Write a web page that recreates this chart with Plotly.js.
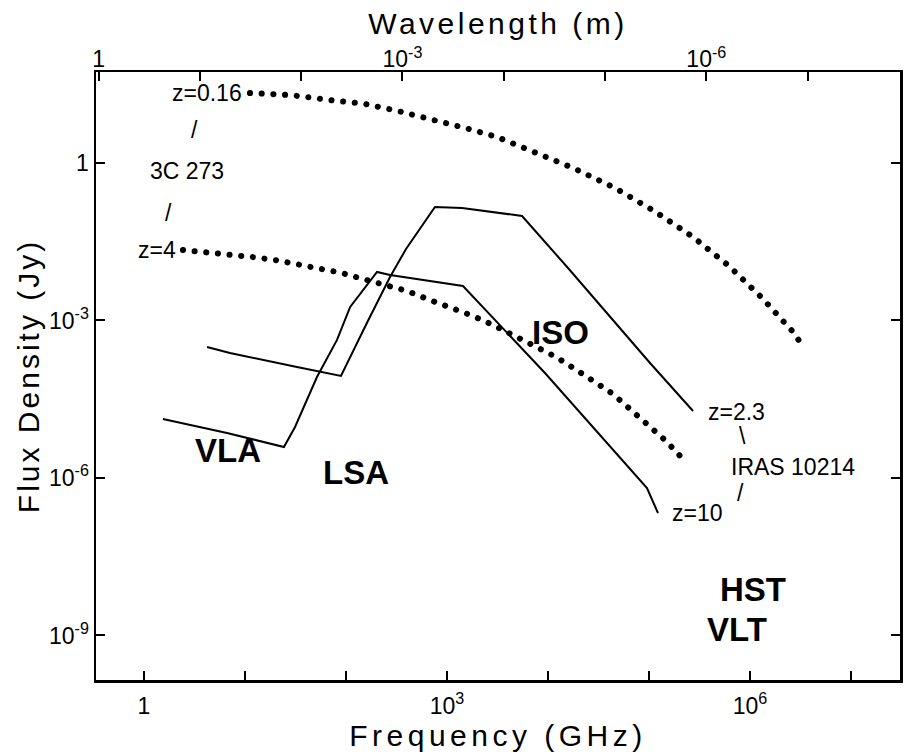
<!DOCTYPE html>
<html>
<head>
<meta charset="utf-8">
<script src="https://cdn.plot.ly/plotly-3.0.1.min.js"></script>
<style>
  html, body { margin: 0; padding: 0; background: #fff; }
  #chart { width: 912px; height: 755px; }
  .xtitle { letter-spacing: 4.5px; }
  .x2title { letter-spacing: 3.5px; }
  .ytitle { letter-spacing: 3px; }
  .scatterlayer .dotted .js-line { stroke-linecap: round !important; }
</style>
</head>
<body>
<div id="chart"></div>
<script>
// ---- Data (frequency in GHz, flux density in Jy) ----
// 3C 273 at z = 0.16 (dotted)
const freq3C273z016 = [11.2, 27.9, 69.5, 154, 327, 710, 1507, 3126, 6637, 17700, 46030, 112200, 272900, 619400, 1.315e6, 2.667e6, 3.126e6];
const flux3C273z016 = [21.5, 19.7, 15.8, 13.3, 9.77, 6.89, 4.65, 3.13, 1.77, 0.804, 0.334, 0.122, 0.0389, 0.0109, 0.00269, 6.04e-4, 3.89e-4];

// 3C 273 at z = 4 (dotted)
const freq3C273z4 = [2.43, 4.21, 7.10, 11.7, 19.8, 32.7, 54.1, 91.2, 147, 243, 402, 679, 1072, 1807, 2851, 4498, 7430, 12000, 18490, 28510, 44060, 66370, 100000, 147200, 207500];
const flux3C273z4 = [0.0220, 0.0202, 0.0185, 0.0162, 0.0142, 0.0119, 0.0100, 0.00804, 0.00617, 0.00474, 0.00365, 0.00245, 0.00181, 0.00122, 8.20e-4, 5.30e-4, 3.27e-4, 2.02e-4, 1.19e-4, 6.75e-5, 3.98e-5, 1.97e-5, 1.02e-5, 5.07e-6, 2.51e-6];

// IRAS 10214 at z = 2.3 (solid)
const freqIRASz23 = [4.21, 7.10, 32.7, 89.2, 161, 273, 393, 760, 1409, 3350, 5533, 15780, 102300, 272900];
const fluxIRASz23 = [3.13e-4, 2.40e-4, 1.30e-4, 8.77e-5, 8.96e-4, 6.74e-3, 0.0230, 0.145, 0.139, 0.112, 0.0978, 0.0100, 1.55e-4, 1.89e-5];

// IRAS 10214 at z = 10 (solid)
const freqIRASz10 = [1.54, 6.64, 24.3, 31.3, 51.6, 81.5, 110, 147, 203, 273, 1439, 9333, 95500, 122700];
const fluxIRASz10 = [1.33e-5, 7.19e-6, 3.89e-6, 9.36e-6, 8.39e-5, 4.26e-4, 1.81e-3, 3.81e-3, 8.39e-3, 7.36e-3, 4.54e-3, 1.0e-4, 6.45e-7, 2.15e-7];

// Tick labels (labelled decades) and unlabelled decade ticks
const xTickVals = [1, 1e3, 1e6];
const xTickText = ['1', '10<sup>3</sup>', '10<sup>6</sup>'];
const xMinorVals = [10, 100, 1e4, 1e5, 1e7];
const x2TickVals = [1, 1e-3, 1e-6];
const x2TickText = ['1', '10<sup>-3</sup>', '10<sup>-6</sup>'];
const x2MinorVals = [0.1, 0.01, 1e-4, 1e-5, 1e-7];
const yTickVals = [1, 1e-3, 1e-6, 1e-9];
const yTickText = ['1', '10<sup>-3</sup>', '10<sup>-6</sup>', '10<sup>-9</sup>'];

const FONT = 'Liberation Sans, Arial, Helvetica, sans-serif';

const dotLine = { color: '#000', width: 6, dash: '0.1px,11.6px' };
const solidLine = { color: '#000', width: 2 };

const traces = [
  { x: freq3C273z016, y: flux3C273z016, mode: 'lines', line: Object.assign({}, dotLine), name: 'z=0.16' },
  { x: freq3C273z4, y: flux3C273z4, mode: 'lines', line: Object.assign({}, dotLine), name: 'z=4' },
  { x: freqIRASz23, y: fluxIRASz23, mode: 'lines', line: solidLine, name: 'z=2.3' },
  { x: freqIRASz10, y: fluxIRASz10, mode: 'lines', line: solidLine, name: 'z=10' },
  // empty trace that attaches the wavelength (top) axis
  { x: x2TickVals, y: x2TickVals.map(function () { return null; }), xaxis: 'x2', yaxis: 'y', mode: 'lines', line: { width: 0 }, name: 'wavelength axis' }
];

function ann(text, x, y, size, bold) {
  return {
    text: bold ? '<b>' + text + '</b>' : text,
    x: x, y: y, xref: 'x', yref: 'y',
    showarrow: false,
    font: { family: FONT, size: size, color: '#000' },
    xanchor: 'center', yanchor: 'middle'
  };
}

const tickCommon = {
  ticks: 'inside', ticklen: 9, tickwidth: 2, tickcolor: '#000',
  showline: true, linewidth: 2.5, linecolor: '#000',
  showgrid: false, zeroline: false,
  tickfont: { family: FONT, size: 23, color: '#000' }
};

const layout = {
  width: 912, height: 755,
  margin: { l: 96, r: 12, t: 72, b: 75 },
  paper_bgcolor: '#fff', plot_bgcolor: '#fff',
  showlegend: false,
  hovermode: false,
  font: { family: FONT, color: '#000' },
  xaxis: Object.assign({}, tickCommon, {
    type: 'log', range: [-0.475, 7.485], mirror: false,
    tickmode: 'array', tickvals: xTickVals, ticktext: xTickText,
    minor: { tickmode: 'array', tickvals: xMinorVals, ticks: 'inside', ticklen: 9, tickwidth: 2, tickcolor: '#000', showgrid: false },
    ticklabelstandoff: 4,
    title: { text: 'Frequency (GHz)', font: { family: FONT, size: 30, color: '#000' }, standoff: 4 }
  }),
  xaxis2: Object.assign({}, tickCommon, {
    type: 'log', range: [0.025, -7.912],
    overlaying: 'x', side: 'top', anchor: 'y',
    tickmode: 'array', tickvals: x2TickVals, ticktext: x2TickText,
    minor: { tickmode: 'array', tickvals: x2MinorVals, ticks: 'inside', ticklen: 9, tickwidth: 2, tickcolor: '#000', showgrid: false },
    ticklabelstandoff: 0,
    title: { text: 'Wavelength (m)', font: { family: FONT, size: 30, color: '#000' }, standoff: 0 }
  }),
  yaxis: Object.assign({}, tickCommon, {
    type: 'log', range: [-9.848, 1.733], mirror: 'ticks',
    tickmode: 'array', tickvals: yTickVals, ticktext: yTickText,
    ticklabelstandoff: 0,
    title: { text: 'Flux Density (Jy)', font: { family: FONT, size: 30, color: '#000' }, standoff: 1 }
  }),
  annotations: [
    ann('z=0.16', 0.624, 1.333, 23),
    ann('/', 0.505, 0.629, 23),
    ann('3C 273', 0.426, -0.152, 23),
    ann('/', 0.238, -0.952, 23),
    ann('z=4', 0.129, -1.657, 23),
    ann('VLA', 0.832, -5.467, 33, true),
    ann('LSA', 2.099, -5.886, 33, true),
    ann('ISO', 4.119, -3.238, 33, true),
    ann('HST', 6.030, -8.133, 33, true),
    ann('VLT', 5.871, -8.895, 33, true),
    ann('z=2.3', 5.871, -4.743, 23),
    ann('\\', 5.921, -5.2, 23),
    ann('IRAS 10214', 6.426, -5.790, 23),
    ann('/', 5.901, -6.286, 23),
    ann('z=10', 5.485, -6.667, 23)
  ]
};

Plotly.newPlot('chart', traces, layout, { staticPlot: true, displayModeBar: false }).then(function () {
  // round dot caps for the dotted (3C 273) curves
  const lines = document.querySelectorAll('.scatterlayer .trace');
  [0, 1].forEach(function (i) {
    if (lines[i]) lines[i].classList.add('dotted');
  });
  // top (wavelength) tick labels sit close to the axis line in the reference
  document.querySelectorAll('.x2tick text').forEach(function (el) {
    const y = el.getAttribute('y');
    if (y !== null) el.setAttribute('y', parseFloat(y) + 7);
  });
  // nudge the wavelength title down toward its tick labels
  const t2 = document.querySelector('.x2title');
  if (t2 && t2.getAttribute('y') !== null) {
    t2.setAttribute('y', parseFloat(t2.getAttribute('y')) + 7);
  }
});
</script>
</body>
</html>
